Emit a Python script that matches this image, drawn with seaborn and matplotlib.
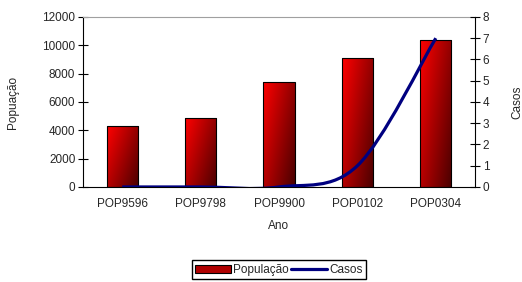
import numpy as np
import pandas as pd
import matplotlib
matplotlib.use('Agg')
import matplotlib.pyplot as plt
from matplotlib.path import Path
from matplotlib.patches import PathPatch, Patch
from matplotlib.lines import Line2D
from matplotlib.colors import LinearSegmentedColormap
import seaborn as sns

# Data
anos = ['POP9596', 'POP9798', 'POP9900', 'POP0102', 'POP0304']
populacao = [4300, 4870, 7420, 9130, 10400]
casos = [0, 0, 0, 1, 7]

sns.set_style('white')
plt.rcParams['font.family'] = ['Liberation Sans', 'DejaVu Sans']

df = pd.DataFrame({'Ano': anos, 'Populacao': populacao, 'Casos': casos})

fig = plt.figure(figsize=(5.22, 2.82), dpi=100)
ax1 = fig.add_axes([0.159, 0.337, 0.751, 0.603])

sns.barplot(data=df, x='Ano', y='Populacao', color='#d00000', width=0.4,
            edgecolor='black', linewidth=0.8, saturation=1, ax=ax1)

# gradient fill for the bars, bright top-left to dark bottom-right
cmap = LinearSegmentedColormap.from_list('bar', ['#ff0000', '#4a0000'])
u, v = np.meshgrid(np.linspace(0, 1, 60), np.linspace(0, 1, 60))
grad = 0.6 * u + 0.4 * v
for bar in ax1.patches:
    x0, y0 = bar.get_x(), bar.get_y()
    w, h = bar.get_width(), bar.get_height()
    im = ax1.imshow(grad, cmap=cmap, extent=[x0, x0 + w, y0, y0 + h],
                    origin='upper', aspect='auto', zorder=bar.get_zorder(),
                    interpolation='bilinear')
    im.set_clip_path(bar)
    bar.set_facecolor('none')
    bar.set_zorder(bar.get_zorder() + 0.1)

ax1.set_xlim(-0.5, len(anos) - 0.5)
ax1.set_ylim(0, 12000)
ax1.set_yticks(range(0, 12001, 2000))

# ticks at the category boundaries, labels at the centres
ax1.set_xticks(np.arange(-0.5, len(anos)), labels=[''] * (len(anos) + 1))
ax1.set_xticks(range(len(anos)), labels=anos, minor=True)
ax1.tick_params(axis='x', which='major', direction='inout', length=7, width=0.8, color='black')
ax1.tick_params(axis='x', which='minor', length=0, labelsize=8.5, pad=8)
ax1.tick_params(axis='y', direction='inout', length=7, width=0.8, labelsize=8.5, pad=2, color='black')

ax1.set_xlabel('Ano', fontsize=8.5, labelpad=7)
ax1.set_ylabel('Popuação', fontsize=8.5, labelpad=17)

for side in ['left', 'bottom']:
    ax1.spines[side].set_color('black')
    ax1.spines[side].set_linewidth(0.8)
ax1.spines['top'].set_color('#a0a0a0')
ax1.spines['top'].set_linewidth(0.8)
ax1.spines['right'].set_visible(False)

ax2 = ax1.twinx()
ax2.set_ylim(0, 8)
ax2.set_yticks(range(0, 9))
ax2.tick_params(axis='y', direction='inout', length=7, width=0.8, labelsize=8.5, pad=2, color='black')
ax2.set_ylabel('Casos', fontsize=8.5, labelpad=16)
ax2.spines['right'].set_color('black')
ax2.spines['right'].set_linewidth(0.8)
for side in ['left', 'top', 'bottom']:
    ax2.spines[side].set_visible(False)

# smoothed line (Excel style bezier through the points)
pts = list(zip(range(len(casos)), casos))
ext = [pts[0]] + pts + [pts[-1]]
verts = [pts[0]]
codes = [Path.MOVETO]
for i in range(len(pts) - 1):
    p0, p1, p2, p3 = ext[i], ext[i + 1], ext[i + 2], ext[i + 3]
    c1 = (p1[0] + (p2[0] - p0[0]) / 6, p1[1] + (p2[1] - p0[1]) / 6)
    c2 = (p2[0] - (p3[0] - p1[0]) / 6, p2[1] - (p3[1] - p1[1]) / 6)
    verts += [c1, c2, p2]
    codes += [Path.CURVE4] * 3
ax2.add_patch(PathPatch(Path(verts, codes), facecolor='none', edgecolor='#000080',
                        linewidth=2.3, capstyle='butt', zorder=5))

handles = [Patch(facecolor='#b00000', edgecolor='black', linewidth=0.8),
           Line2D([], [], color='#000080', linewidth=2.3)]
fig.legend(handles, ['População', 'Casos'], loc='center', bbox_to_anchor=(0.534, 0.043),
           ncol=2, fontsize=8.5, frameon=True, fancybox=False, edgecolor='black',
           framealpha=1, handlelength=3.0, handletextpad=0.2, columnspacing=0.2,
           borderpad=0.3, handleheight=0.7)

fig.savefig('out.png', dpi=100)
